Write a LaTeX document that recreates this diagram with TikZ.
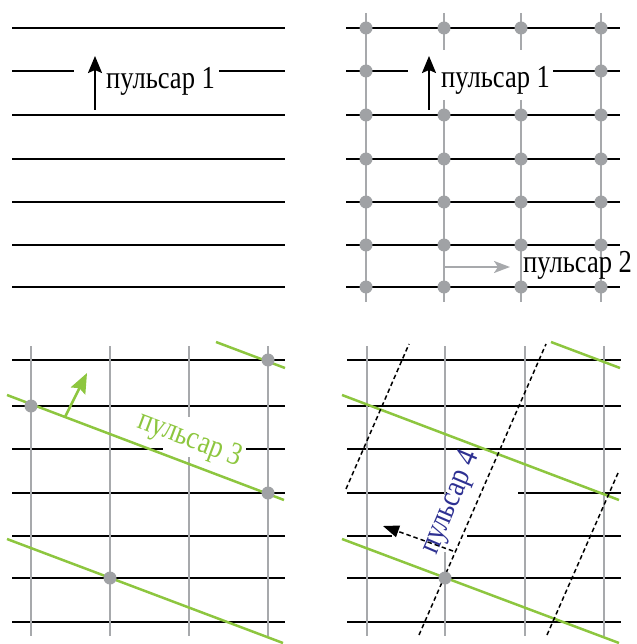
\documentclass[tikz,border=0pt]{standalone}
\usepackage{fontspec}
\setmainfont{Liberation Serif}
\newfontfamily\lblfont[FakeStretch=0.83]{Liberation Serif}
\usetikzlibrary{arrows.meta}
\definecolor{pgreen}{RGB}{141,198,63}
\definecolor{pgrey}{RGB}{167,169,172}
\definecolor{pdot}{RGB}{160,162,165}
\definecolor{pblue}{RGB}{46,49,146}
\begin{document}
\begin{tikzpicture}[x=1pt,y=-1pt,
  hline/.style={line width=2pt, black},
  vline/.style={line width=2.8pt, pgrey},
  gline/.style={line width=2.5pt, pgreen},
  dline/.style={line width=1.5pt, dash pattern=on 4.5pt off 3pt},
  dotc/.style={circle, fill=pdot, inner sep=0pt, minimum size=13pt},
  lbl/.style={font=\lblfont\fontsize{32}{36}\selectfont, inner sep=0pt}]
\useasboundingbox (0,0) rectangle (636,644);
% ---------- panel 1 ----------
\foreach \y in {28,115,159,202,245,287} \draw[hline] (12,\y) -- (285,\y);
\draw[hline] (12,71) -- (74,71);
\draw[hline] (219,71) -- (285,71);
\coordinate (a1s) at (95,110);
\coordinate (a1e) at (95,56);
\draw[line width=2pt, -{Stealth[length=17pt,width=14pt,inset=3pt]}] (a1s) -- (a1e);
\node[lbl, anchor=base west] (t1) at (106,89) {пульсар 1};
% ---------- panel 2 ----------
\foreach \y in {28,115,159,202,245,287} \draw[hline] (346,\y) -- (620,\y);
\draw[hline] (346,71) -- (408,71);
\draw[hline] (553,71) -- (620,71);
\draw[vline] (366,13) -- (366,302);
\draw[vline] (601,13) -- (601,302);
\draw[vline] (444,13) -- (444,50);
\draw[vline] (444,100) -- (444,302);
\draw[vline] (521,13) -- (521,50);
\draw[vline] (521,100) -- (521,302);
\foreach \x in {366,444,521,601}
  \foreach \y in {28,115,159,202,245,287}
    \node[dotc] at (\x,\y) {};
\node[dotc] at (366,71) {};
\node[dotc] at (601,71) {};
\coordinate (a2s) at (429,110);
\coordinate (a2e) at (429,56);
\draw[line width=2pt, -{Stealth[length=17pt,width=14pt,inset=3pt]}] (a2s) -- (a2e);
\node[lbl, anchor=base west] (t2) at (441,88) {пульсар 1};
\coordinate (b2s) at (444,267);
\coordinate (b2e) at (510,267);
\draw[line width=2.2pt, pgrey, -{Stealth[length=16pt,width=12pt,inset=4pt]}] (b2s) -- (b2e);
\node[lbl, anchor=base west] (t3) at (523,272) {пульсар 2};
% ---------- panel 3 ----------
\foreach \y in {360,406,493,536,578,622} \draw[hline] (12,\y) -- (285,\y);
\draw[hline] (12,449) -- (163,449);
\draw[hline] (246,449) -- (285,449);
\foreach \x in {31,110,268} \draw[vline] (\x,346) -- (\x,636);
\draw[vline] (189,346) -- (189,417);
\draw[vline] (189,457) -- (189,636);
\draw[gline] (216,342) -- (285,368);
\draw[gline] (7,395) -- (284,500);
\draw[gline] (7,539) -- (283,643);
\node[dotc] at (268,360) {};
\node[dotc] at (31,406) {};
\node[dotc] at (268,493) {};
\node[dotc] at (110,578) {};
\coordinate (g3s) at (65,417);
\coordinate (g3e) at (87,373);
\draw[line width=2.6pt, pgreen, -{Stealth[length=20pt,width=16pt,inset=3pt]}] (g3s) -- (g3e);
\node[lbl, text=pgreen, rotate=-20.7] (t4) at (190,440) {пульсар 3};
% ---------- panel 4 ----------
\foreach \y in {360,406,449,578,622} \draw[hline] (347,\y) -- (621,\y);
\draw[hline] (347,493) -- (447,493);
\draw[hline] (518,493) -- (621,493);
\draw[hline] (347,536) -- (392,536);
\draw[hline] (467,536) -- (621,536);
\foreach \x in {367,525,604} \draw[vline] (\x,346) -- (\x,636);
\draw[vline] (445,346) -- (445,495);
\draw[vline] (445,552) -- (445,636);
\draw[gline] (551,342) -- (620,368);
\draw[gline] (342,395) -- (619,500);
\draw[gline] (342,539) -- (619,643);
\draw[dline] (346,489) -- (409,344);
\draw[dline] (419,635) -- (546,344);
\draw[dline] (547,635) -- (618,473);
\node[dotc] at (445,578) {};
\coordinate (d4s) at (453,551);
\coordinate (d4e) at (383,526);
\draw[dline, -{Triangle[length=16pt,width=12pt]}] (d4s) -- (d4e);
\node[lbl, text=pblue, rotate=67] (t5) at (451,503) {пульсар 4};
\end{tikzpicture}
\end{document}
